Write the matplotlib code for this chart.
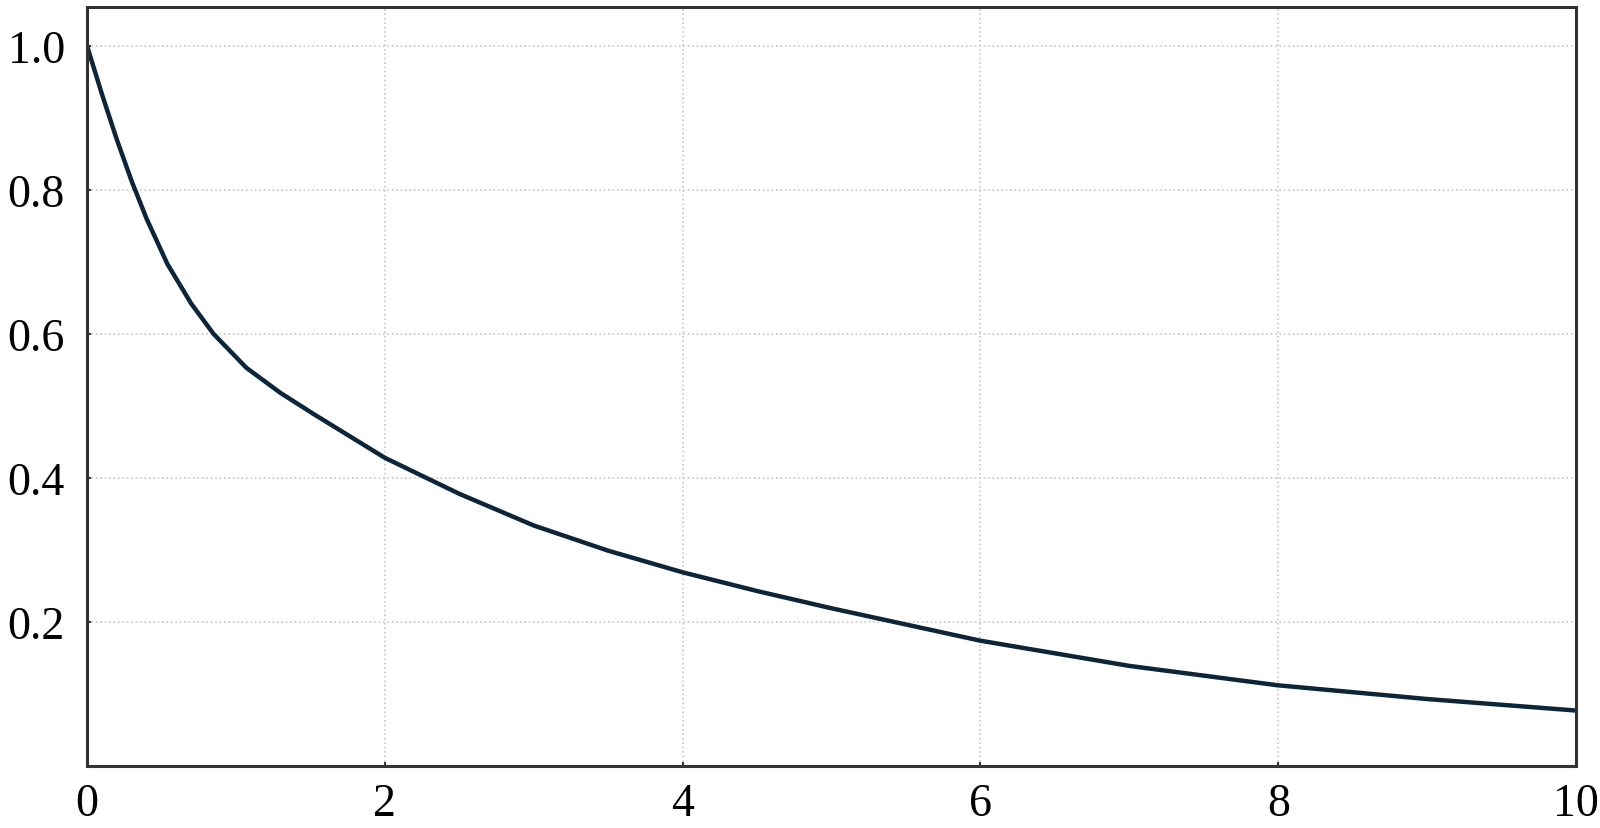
import matplotlib.pyplot as plt

# values
x_vals = [0, 0.1, 0.2, 0.3, 0.4, 0.54, 0.7, 0.85, 1.07, 1.3, 1.52, 2, 2.5, 3, 3.5, 4, 4.5, 5, 6, 7, 8, 9, 10]
y_vals = [1.0, 0.933, 0.870, 0.812, 0.760, 0.697, 0.642, 0.600, 0.553, 0.518, 0.489, 0.428, 0.378, 0.334, 0.299, 0.269, 0.243, 0.219, 0.174, 0.139, 0.112, 0.093, 0.077]
x_ticks = [0, 2, 4, 6, 8, 10]
y_ticks = [0.2, 0.4, 0.6, 0.8, 1.0]

plt.rcParams['font.family'] = ['Liberation Serif', 'DejaVu Serif']

fig = plt.figure(figsize=(16, 8.29), dpi=100)
ax = fig.add_axes([0.0544, 0.0748, 0.9306, 0.9155])

ax.plot(x_vals, y_vals, color='#0d2538', lw=3.2, solid_capstyle='round', solid_joinstyle='round')

ax.set_xlim(0, 10)
ax.set_ylim(0, 1.054)
ax.set_xticks(x_ticks)
ax.set_xticklabels([str(t) for t in x_ticks])
ax.set_yticks(y_ticks)
ax.set_yticklabels([f'{t:.1f}' for t in y_ticks])

ax.grid(True, color='#c8c8c8', linestyle=':', lw=1.2)
ax.tick_params(axis='both', labelsize=33, length=3, width=1.5, color='#333333', direction='in')
ax.tick_params(axis='y', pad=16)
ax.tick_params(axis='x', pad=12)

for s in ax.spines.values():
    s.set_color('#333333')
    s.set_linewidth(2.2)

fig.savefig('out.png', dpi=100)
